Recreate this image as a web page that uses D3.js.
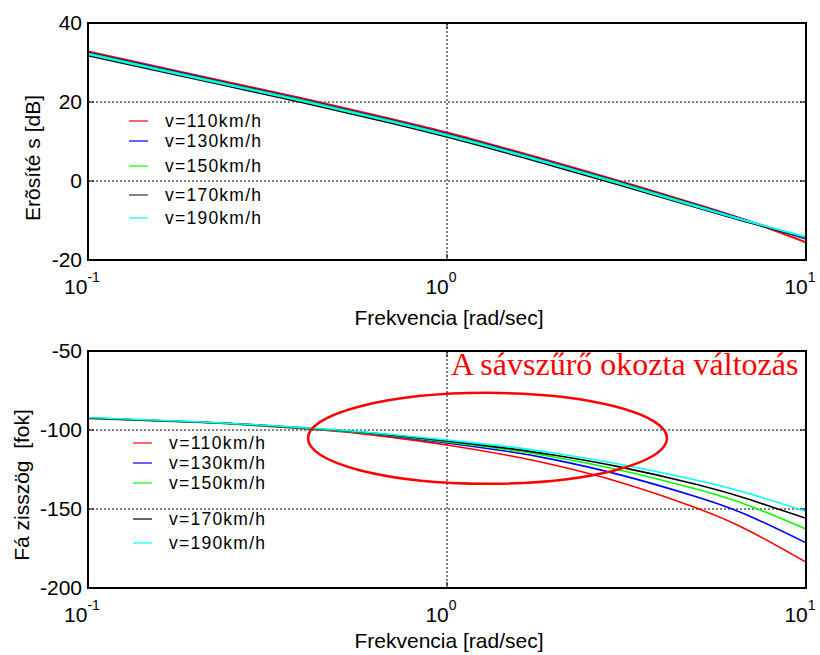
<!DOCTYPE html>
<html>
<head>
<meta charset="utf-8">
<script src="https://cdnjs.cloudflare.com/ajax/libs/d3/7.8.5/d3.min.js"></script>
<style>
  body { margin: 0; background: #fff; }
  svg { display: block; font-family: "Liberation Sans", Arial, sans-serif; }
  .grid { stroke: #000; stroke-width: 1; stroke-dasharray: 2,2; }
</style>
</head>
<body>
<div id="chart"></div>
<script>
// speeds (legend) and colours
var speeds = ["v=110km/h", "v=130km/h", "v=150km/h", "v=170km/h", "v=190km/h"];
var colors = ["#ff0000", "#0000ff", "#00ff00", "#000000", "#00ffff"];
var legendColorsTop = ["#ff0000", "#0000ff", "#00ff00", "#333333", "#00ffff"];

// gain [dB]
var magFreq = [0.1, 0.2, 0.4, 0.7, 1, 1.6, 3, 5, 7, 10];
var magV110 = [32.8, 26.8, 20.8, 15.7, 12.3, 7.2, 0.1, -6.0, -10.3, -15.5];
var magV130 = [32.5, 26.5, 20.5, 15.4, 11.9, 6.9, -0.2, -6.2, -10.3, -14.6];
var magV150 = [32.3, 26.3, 20.3, 15.2, 11.7, 6.7, -0.4, -6.4, -10.4, -14.4];
var magV170 = [31.8, 25.8, 19.8, 14.7, 11.2, 6.2, -0.9, -6.8, -10.6, -14.3];
var magV190 = [32.1, 26.1, 20.1, 15.0, 11.5, 6.5, -0.6, -6.6, -10.4, -14.2];

// phase [fok]
var phFreq = [0.1, 0.2, 0.3, 0.5, 0.7, 1, 1.5, 2, 3, 5, 7, 10];
var phV110 = [-92.7, -95.1, -97.3, -100.9, -104.6, -109.5, -116.3, -122.3, -132.7, -149.7, -164.2, -183.6];
var phV130 = [-92.4, -94.9, -97.0, -100.5, -103.8, -108.2, -113.8, -118.9, -128.1, -142.6, -154.7, -171.4];
var phV150 = [-92.5, -95.0, -97.1, -100.4, -103.5, -107.6, -112.6, -117.2, -125.1, -137.7, -148.2, -162.7];
var phV170 = [-92.4, -94.9, -96.9, -100.2, -103.2, -107.0, -111.8, -116.0, -123.2, -134.7, -144.2, -155.9];
var phV190 = [-92.1, -94.8, -96.8, -100.0, -102.8, -106.3, -110.7, -114.7, -121.5, -132.0, -140.5, -151.5];

var xTicks = [0.1, 1, 10];
var xTickExp = ["-1", "0", "1"];
var magTicks = [-20, 0, 20, 40];
var phTicks = [-200, -150, -100, -50];

// annotation ellipse (data coords) and text
var noteText = "A sávszűrő okozta változás";
var ellFreq = [0.41, 4.1];     // left / right extent
var ellPhase = [-76.5, -134];  // top / bottom extent

var width = 820, height = 655;
var svg = d3.select("#chart").append("svg")
    .attr("width", width)
    .attr("height", height);

var left = 88, right = 806;

function drawPanel(o) {
    var x = d3.scaleLog().domain([0.1, 10]).range([left, right]);
    var y = d3.scaleLinear().domain(o.domain).range([o.bottom, o.top]);
    var g = svg.append("g");

    // grid
    o.grid.forEach(function (v) {
        g.append("line").attr("class", "grid")
            .attr("x1", left).attr("x2", right)
            .attr("y1", y(v)).attr("y2", y(v));
    });
    g.append("line").attr("class", "grid")
        .attr("x1", x(1)).attr("x2", x(1))
        .attr("y1", o.top).attr("y2", o.bottom);

    // inward ticks
    o.ticks.forEach(function (v) {
        g.append("line").attr("x1", left).attr("x2", left + 6)
            .attr("y1", y(v)).attr("y2", y(v)).attr("stroke", "#000");
        g.append("line").attr("x1", right - 6).attr("x2", right)
            .attr("y1", y(v)).attr("y2", y(v)).attr("stroke", "#000");
    });
    xTicks.forEach(function (v) {
        g.append("line").attr("x1", x(v)).attr("x2", x(v))
            .attr("y1", o.bottom).attr("y2", o.bottom - 6).attr("stroke", "#000");
        g.append("line").attr("x1", x(v)).attr("x2", x(v))
            .attr("y1", o.top).attr("y2", o.top + 6).attr("stroke", "#000");
    });

    // curves
    var clipId = "clip" + o.top;
    svg.append("clipPath").attr("id", clipId).append("rect")
        .attr("x", left).attr("y", o.top)
        .attr("width", right - left).attr("height", o.bottom - o.top);
    var line = d3.line()
        .x(function (d) { return x(d[0]); })
        .y(function (d) { return y(d[1]); })
        .curve(d3.curveNatural);
    var cg = g.append("g").attr("clip-path", "url(#" + clipId + ")");
    o.series.forEach(function (s, i) {
        cg.append("path")
            .datum(o.freq.map(function (f, j) { return [f, s[j]]; }))
            .attr("d", line)
            .attr("fill", "none")
            .attr("stroke", colors[i])
            .attr("stroke-width", o.lw);
    });

    // frame
    g.append("rect")
        .attr("x", left).attr("y", o.top)
        .attr("width", right - left).attr("height", o.bottom - o.top)
        .attr("fill", "none").attr("stroke", "#000").attr("stroke-width", 2);

    // y tick labels
    g.selectAll(".yt").data(o.ticks).enter().append("text")
        .attr("x", left - 6)
        .attr("y", function (d) { return y(d) + 7; })
        .attr("text-anchor", "end")
        .attr("font-size", "21px")
        .text(function (d) { return d; });

    // x tick labels with exponents
    xTicks.forEach(function (v, i) {
        var t = g.append("text")
            .attr("x", x(v) - 6)
            .attr("y", o.bottom + o.tickOff)
            .attr("text-anchor", "middle")
            .attr("font-size", "21px");
        t.append("tspan").text("10");
        t.append("tspan").attr("dy", -12).attr("font-size", "14px").text(xTickExp[i]);
    });

    // axis labels
    g.append("text")
        .attr("x", (left + right) / 2 + 2)
        .attr("y", o.bottom + o.labelOff)
        .attr("text-anchor", "middle")
        .attr("font-size", "21px")
        .text("Frekvencia [rad/sec]");
    g.append("text")
        .attr("transform", "translate(" + o.ylabX + "," + o.ylabY + ")rotate(-90)")
        .attr("text-anchor", "middle")
        .attr("font-size", "21px")
        .attr("xml:space", "preserve")
        .style("white-space", "pre")
        .text(o.ylabel);

    // legend
    o.legY.forEach(function (ly, i) {
        g.append("line")
            .attr("x1", o.legX).attr("x2", o.legX + 19)
            .attr("y1", ly).attr("y2", ly)
            .attr("stroke", o.legColors[i]).attr("stroke-width", 1.5)
            .attr("opacity", 0.8);
        g.append("text")
            .attr("x", o.legX + 36).attr("y", ly + 6)
            .attr("font-size", "17.5px")
            .attr("textLength", 96)
            .attr("lengthAdjust", "spacing")
            .text(speeds[i]);
    });
    return { x: x, y: y, g: g };
}

drawPanel({
    top: 23, bottom: 260, domain: [-20, 40],
    ticks: magTicks, grid: [0, 20],
    freq: magFreq, series: [magV110, magV130, magV150, magV170, magV190], lw: 2,
    tickOff: 34, labelOff: 65,
    ylabel: "Erõsíté s [dB]", ylabX: 40, ylabY: 158,
    legX: 129, legY: [121, 141, 166, 195, 218], legColors: legendColorsTop
});

var bot = drawPanel({
    top: 351, bottom: 588, domain: [-200, -50],
    ticks: phTicks, grid: [-150, -100],
    freq: phFreq, series: [phV110, phV130, phV150, phV170, phV190], lw: 1.6,
    tickOff: 34, labelOff: 60,
    ylabel: "Fá zisszög  [fok]", ylabX: 29, ylabY: 485,
    legX: 133, legY: [443, 463, 483, 519, 543], legColors: colors
});

// annotation
var ex0 = bot.x(ellFreq[0]), ex1 = bot.x(ellFreq[1]);
var ey0 = bot.y(ellPhase[0]), ey1 = bot.y(ellPhase[1]);
bot.g.append("ellipse")
    .attr("cx", (ex0 + ex1) / 2).attr("cy", (ey0 + ey1) / 2)
    .attr("rx", (ex1 - ex0) / 2).attr("ry", (ey1 - ey0) / 2)
    .attr("fill", "none").attr("stroke", "#ff0000").attr("stroke-width", 2.5);
bot.g.append("text")
    .attr("x", 451).attr("y", 375)
    .attr("font-family", "'Liberation Serif', 'Times New Roman', serif")
    .attr("font-size", "32px")
    .attr("fill", "#ff0000")
    .text(noteText);
</script>
</body>
</html>
